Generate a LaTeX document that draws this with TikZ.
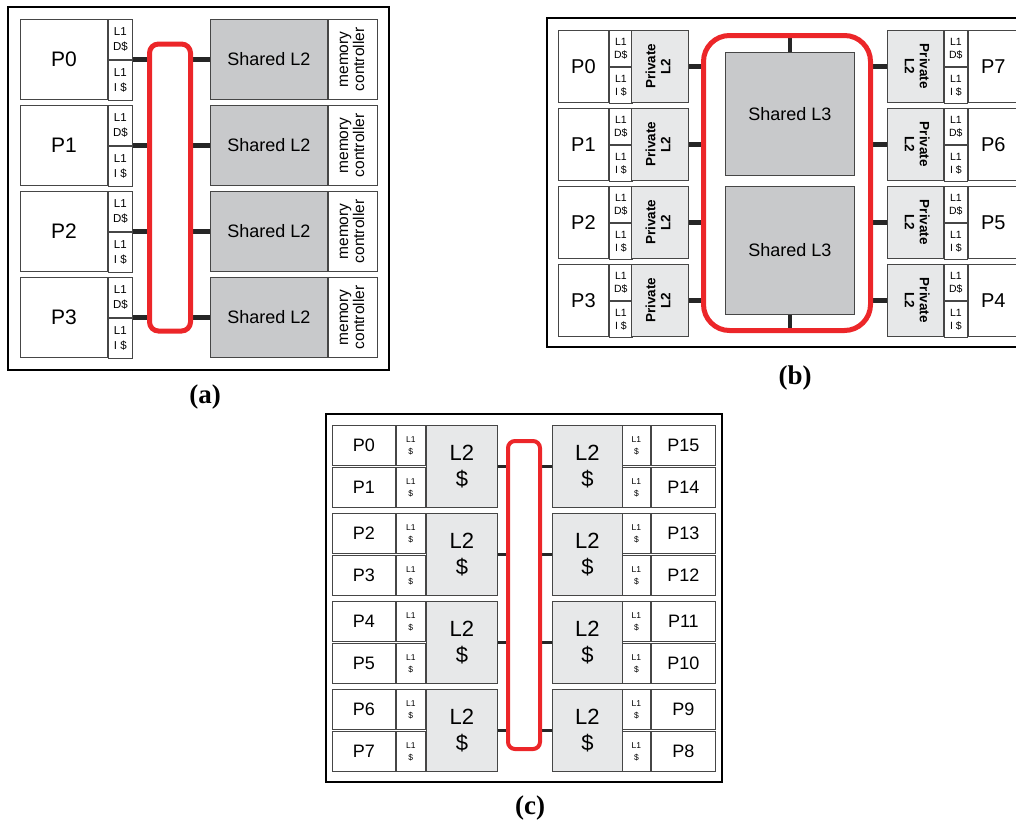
\documentclass[tikz,border=0pt]{standalone}
\usepackage{fontspec}
\usepackage{graphicx}
\setmainfont{Liberation Sans}
\newfontfamily\capfont{Liberation Serif}
\usetikzlibrary{backgrounds}
\definecolor{busR}{RGB}{236,38,41}
\definecolor{sharedG}{RGB}{200,201,203}
\definecolor{privG}{RGB}{231,232,233}
\definecolor{edgeG}{RGB}{70,70,70}
\newcommand{\turned}[2]{\rotatebox{#1}{\begin{tabular}{@{}c@{}}#2\end{tabular}}}

\begin{document}
\begin{tikzpicture}[x=1pt, y=-1pt,
  cell/.style={draw=edgeG, line width=0.9pt, inner sep=0pt, anchor=north west, align=center},
  proc/.style={cell, font=\fontsize{21}{24}\selectfont},
  lone/.style={cell, font=\fontsize{11.5}{14.5}\selectfont},
  shared/.style={cell, fill=sharedG, font=\fontsize{18}{21}\selectfont},
  priv/.style={cell, fill=privG, font=\bfseries\fontsize{13.5}{15}\selectfont},
  chip/.style={draw=black, line width=2.6pt},
  bus/.style={draw=busR, line width=5pt, rounded corners=9pt, inner sep=0pt},
  stub/.style={line width=4.3pt, black!85},
  caption/.style={font=\capfont\bfseries\fontsize{27}{30}\selectfont}]

  \useasboundingbox (0,0) rectangle (1016,828);
  \clip (0,0) rectangle (1016,828);

  % (a) four cores, shared L2 banks
  \draw[chip] (8,7) rectangle (389,370);
  \node[bus, minimum width=41pt, minimum height=287pt] (busa) at (170,187.5) {};
  \foreach \i in {0,...,3}{
    \pgfmathsetmacro\ya{19+86*\i}
    \node[proc, minimum width=87pt, minimum height=80pt] (pa\i) at (20,\ya) {P\i};
    \node[lone, minimum width=24pt, minimum height=40pt] (lda\i) at (pa\i.north east) {L1\\D\$};
    \node[lone, minimum width=24pt, minimum height=40pt] (lia\i) at (lda\i.south west) {L1\\I \$};
    \node[shared, minimum width=117pt, minimum height=80pt] (l2a\i) at (210,\ya) {Shared L2};
    \node[cell, minimum width=49pt, minimum height=80pt, font=\fontsize{15.5}{16}\selectfont]
      (mca\i) at (l2a\i.north east) {\turned{90}{memory\\controller}};
    \begin{scope}[on background layer]
      \draw[stub] (pa\i.east -| lda\i.east) -- (busa.west |- pa\i.east);
      \draw[stub] (busa.east |- l2a\i.west) -- (l2a\i.west);
    \end{scope}
  }
  \node[caption] (capa) at (205,397) {(a)};

  % (b) eight cores, private L2, shared L3
  \draw[chip] (547,18) rectangle (1030,347);
  \node[bus, rounded corners=26pt, minimum width=167pt, minimum height=295pt] (busb) at (787,183) {};
  \node[shared, minimum width=129pt, minimum height=123pt] (l3a) at (725,52) {Shared L3};
  \node[shared, minimum width=129pt, minimum height=128pt] (l3b) at (725,186) {Shared L3};
  \begin{scope}[on background layer]
    \draw[stub] (l3a.north |- busb.north) -- (l3a.north);
    \draw[stub] (l3b.south) -- (l3b.south |- busb.south);
  \end{scope}
  \foreach \i in {0,...,3}{
    \pgfmathsetmacro\ya{30+78*\i}
    \pgfmathtruncatemacro\j{7-\i}
    \node[proc, minimum width=50pt, minimum height=72pt, font=\fontsize{20}{23}\selectfont] (pb\i) at (558,\ya) {P\i};
    \node[lone, minimum width=23pt, minimum height=36pt, font=\fontsize{10.5}{13}\selectfont] (ldb\i) at (pb\i.north east) {L1\\D\$};
    \node[lone, minimum width=23pt, minimum height=36pt, font=\fontsize{10.5}{13}\selectfont] (lib\i) at (ldb\i.south west) {L1\\I \$};
    \node[priv, minimum width=57pt, minimum height=72pt] (qb\i) at (631,\ya) {\turned{90}{Private\\L2}};
    \node[priv, minimum width=56pt, minimum height=72pt] (rb\i) at (887,\ya) {\turned{-90}{Private\\L2}};
    \node[lone, minimum width=23pt, minimum height=36pt, font=\fontsize{10.5}{13}\selectfont] (rdb\i) at (rb\i.north east) {L1\\D\$};
    \node[lone, minimum width=23pt, minimum height=36pt, font=\fontsize{10.5}{13}\selectfont] (rib\i) at (rdb\i.south west) {L1\\I \$};
    \node[proc, minimum width=50pt, minimum height=72pt, font=\fontsize{20}{23}\selectfont] (sb\i) at (rdb\i.north east) {P\j};
    \begin{scope}[on background layer]
      \draw[stub] (qb\i.east) -- (busb.west |- qb\i.east);
      \draw[stub] (busb.east |- rb\i.west) -- (rb\i.west);
    \end{scope}
  }
  \node[caption] (capb) at (795,378) {(b)};

  % (c) sixteen cores, L2 per pair
  \draw[chip] (326,414) rectangle (722,782);
  \node[bus, line width=4pt, rounded corners=7pt, minimum width=32pt, minimum height=308pt] (busc) at (524,595) {};
  \foreach \k in {0,...,3}{
    \pgfmathsetmacro\yc{425+88*\k}
    \pgfmathsetmacro\yd{467+88*\k}
    \pgfmathtruncatemacro\m{2*\k}
    \pgfmathtruncatemacro\n{2*\k+1}
    \pgfmathtruncatemacro\r{15-2*\k}
    \pgfmathtruncatemacro\s{14-2*\k}
    \node[proc, minimum width=63pt, minimum height=40pt, font=\fontsize{18}{20}\selectfont] (pc\m) at (332,\yc) {P\m};
    \node[lone, minimum width=29pt, minimum height=40pt, font=\fontsize{8.5}{12}\selectfont] (lc\m) at (pc\m.north east) {L1\\\$};
    \node[proc, minimum width=63pt, minimum height=40pt, font=\fontsize{18}{20}\selectfont] (pc\n) at (332,\yd) {P\n};
    \node[lone, minimum width=29pt, minimum height=40pt, font=\fontsize{8.5}{12}\selectfont] (lc\n) at (pc\n.north east) {L1\\\$};
    \node[cell, fill=privG, minimum width=71pt, minimum height=82pt, font=\fontsize{22}{26}\selectfont] (l2c\k) at (426,\yc) {L2\\\$};
    \node[cell, fill=privG, minimum width=70pt, minimum height=82pt, font=\fontsize{22}{26}\selectfont] (r2c\k) at (552,\yc) {L2\\\$};
    \node[lone, minimum width=28pt, minimum height=40pt, font=\fontsize{8.5}{12}\selectfont] (rlc\r) at (622,\yc) {L1\\\$};
    \node[proc, minimum width=64pt, minimum height=40pt, font=\fontsize{18}{20}\selectfont] (pc\r) at (rlc\r.north east) {P\r};
    \node[lone, minimum width=28pt, minimum height=40pt, font=\fontsize{8.5}{12}\selectfont] (rlc\s) at (622,\yd) {L1\\\$};
    \node[proc, minimum width=64pt, minimum height=40pt, font=\fontsize{18}{20}\selectfont] (pc\s) at (rlc\s.north east) {P\s};
    \begin{scope}[on background layer]
      \draw[stub, line width=3.4pt] (l2c\k.east) -- (busc.west |- l2c\k.east);
      \draw[stub, line width=3.4pt] (busc.east |- r2c\k.west) -- (r2c\k.west);
    \end{scope}
  }
  \node[caption] (capc) at (530,808) {(c)};
\end{tikzpicture}
\end{document}
